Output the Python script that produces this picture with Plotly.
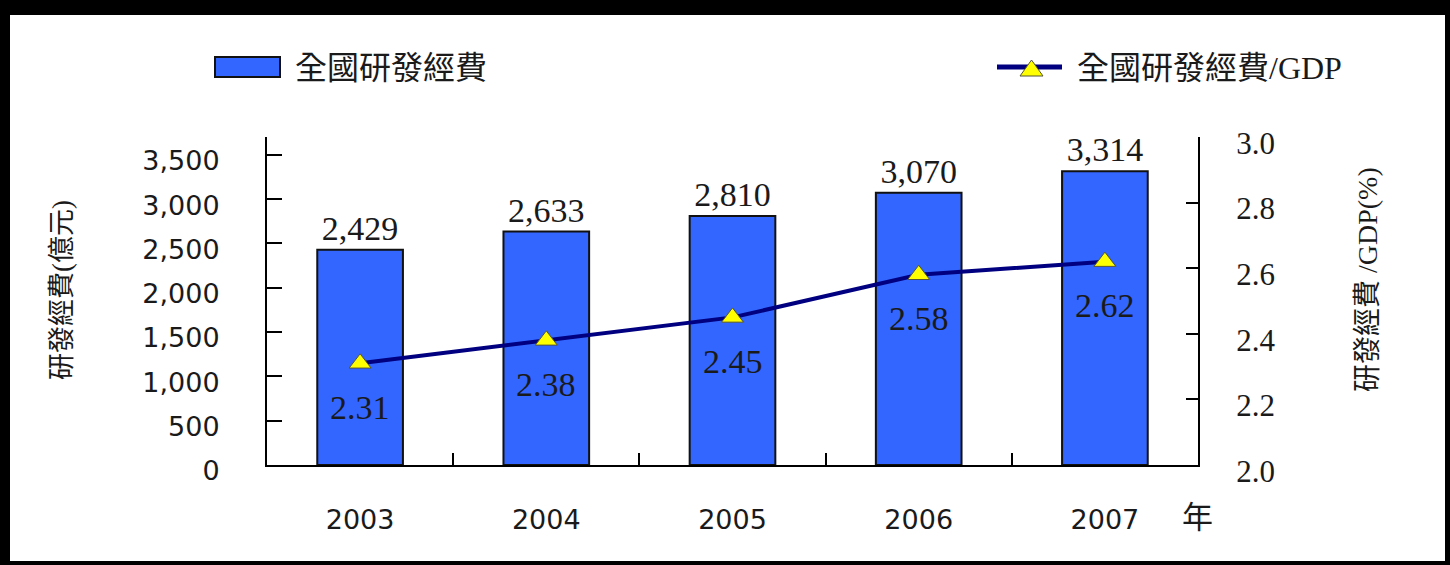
import plotly.graph_objects as go

# Data
years = ["2003", "2004", "2005", "2006", "2007"]
rd_spend = [2429, 2633, 2810, 3070, 3314]          # 全國研發經費 (億元)
rd_gdp_ratio = [2.31, 2.38, 2.45, 2.58, 2.62]      # 全國研發經費/GDP (%)

bar_name = "全國研發經費"
line_name = "全國研發經費/GDP"
left_title = "研發經費(億元)"
right_title = "研發經費 /GDP(%)"
year_unit = "年"

# Page / plot geometry (pixels)
WIDTH, HEIGHT = 1450, 565
L, R, T, B = 267, 1198, 137, 465
PW, PH = R - L, B - T


def px(x):
    return (x - L) / PW


def py(y):
    return (B - y) / PH


BAR_COLOR = "#3366FF"
LINE_COLOR = "#000080"
TEXT_COLOR = "#1a1a1a"
SERIF = "Liberation Serif, Noto Sans CJK TC, serif"
SANS = "DejaVu Sans, Noto Sans CJK TC, sans-serif"

fig = go.Figure()

fig.add_trace(go.Bar(
    x=years, y=rd_spend, name=bar_name,
    marker=dict(color=BAR_COLOR, line=dict(color="#111111", width=2)),
    width=0.46,
    texttemplate="%{y:,}", textposition="outside",
    textfont=dict(family=SERIF, size=34, color=TEXT_COLOR),
    cliponaxis=False, showlegend=False,
))

fig.add_trace(go.Scatter(
    x=years, y=rd_gdp_ratio, name=line_name, yaxis="y2",
    mode="lines+markers",
    line=dict(color=LINE_COLOR, width=4),
    marker=dict(symbol="triangle-up", size=19, color="#FFFF00",
                line=dict(color="#555533", width=1)),
    cliponaxis=False, showlegend=False,
))

annotations = []
# value labels under the ratio markers (x given as category index)
for i, v in enumerate(rd_gdp_ratio):
    annotations.append(dict(
        x=i, y=v, xref="x", yref="y2", text=f"{v:.2f}", showarrow=False,
        yshift=-44, font=dict(family=SERIF, size=34, color=TEXT_COLOR),
    ))

# axis titles and unit
annotations += [
    dict(x=px(62), y=py(290), xref="paper", yref="paper", text=left_title,
         textangle=-90, showarrow=False, xanchor="center", yanchor="middle",
         font=dict(family=SERIF, size=27, color=TEXT_COLOR)),
    dict(x=px(1367), y=py(280), xref="paper", yref="paper", text=right_title,
         textangle=-90, showarrow=False, xanchor="center", yanchor="middle",
         font=dict(family=SERIF, size=28, color=TEXT_COLOR)),
    dict(x=px(1197), y=py(517), xref="paper", yref="paper", text=year_unit,
         showarrow=False, xanchor="center", yanchor="middle",
         font=dict(family=SERIF, size=31, color=TEXT_COLOR)),
    # legend labels
    dict(x=px(293), y=py(68), xref="paper", yref="paper", text=bar_name,
         showarrow=False, xanchor="left", yanchor="middle",
         font=dict(family=SERIF, size=32, color=TEXT_COLOR)),
    dict(x=px(1075), y=py(68), xref="paper", yref="paper", text=line_name,
         showarrow=False, xanchor="left", yanchor="middle",
         font=dict(family=SERIF, size=32, color=TEXT_COLOR)),
]

shapes = [
    # white card on black page
    dict(type="rect", xref="paper", yref="paper", layer="below",
         x0=px(10), x1=px(1445), y0=py(561), y1=py(15),
         fillcolor="white", line=dict(width=0)),
    # legend swatch: bars
    dict(type="rect", xref="paper", yref="paper",
         x0=px(215), x1=px(280), y0=py(77), y1=py(57),
         fillcolor=BAR_COLOR, line=dict(color="#111111", width=2)),
    # legend swatch: line with triangle
    dict(type="line", xref="paper", yref="paper",
         x0=px(997), x1=px(1062), y0=py(67), y1=py(67),
         line=dict(color=LINE_COLOR, width=5)),
    dict(type="path", xref="paper", yref="paper",
         path=(f"M {px(1020)} {py(76)} L {px(1043)} {py(76)} "
               f"L {px(1031.5)} {py(60)} Z"),
         fillcolor="#FFFF00", line=dict(color="#555533", width=1)),
]

fig.update_layout(
    width=WIDTH, height=HEIGHT,
    margin=dict(l=L, r=WIDTH - R, t=T, b=HEIGHT - B, autoexpand=False),
    paper_bgcolor="black", plot_bgcolor="white",
    showlegend=False,
    annotations=annotations, shapes=shapes,
    xaxis=dict(
        type="category", categoryorder="array", categoryarray=years,
        range=[-0.5, len(years) - 0.5], autorange=False,
        showline=True, linecolor="black", linewidth=2,
        ticks="inside", tickson="boundaries", ticklen=12, tickwidth=2,
        tickcolor="black", showgrid=False, zeroline=False,
        tickangle=0, automargin=False,
        tickfont=dict(family=SANS, size=27, color=TEXT_COLOR),
        ticklabelstandoff=30,
    ),
    yaxis=dict(
        range=[0, 3700], autorange=False,
        tickvals=[0, 500, 1000, 1500, 2000, 2500, 3000, 3500],
        tickformat=",", showline=True, linecolor="black", linewidth=2,
        ticks="inside", ticklen=15, tickwidth=2, tickcolor="black",
        showgrid=False, zeroline=False, automargin=False,
        tickfont=dict(family=SANS, size=27, color=TEXT_COLOR),
        ticklabelstandoff=40, ticklabelshift=6,
    ),
    yaxis2=dict(
        range=[2.0, 3.0], autorange=False, dtick=0.2, tickformat=".1f",
        overlaying="y", side="right",
        showline=True, linecolor="black", linewidth=2,
        ticks="inside", ticklen=12, tickwidth=2, tickcolor="black",
        showgrid=False, zeroline=False, automargin=False,
        tickfont=dict(family=SERIF, size=31, color=TEXT_COLOR),
        ticklabelstandoff=30, ticklabelshift=6,
    ),
)

fig.write_html("out.html")
